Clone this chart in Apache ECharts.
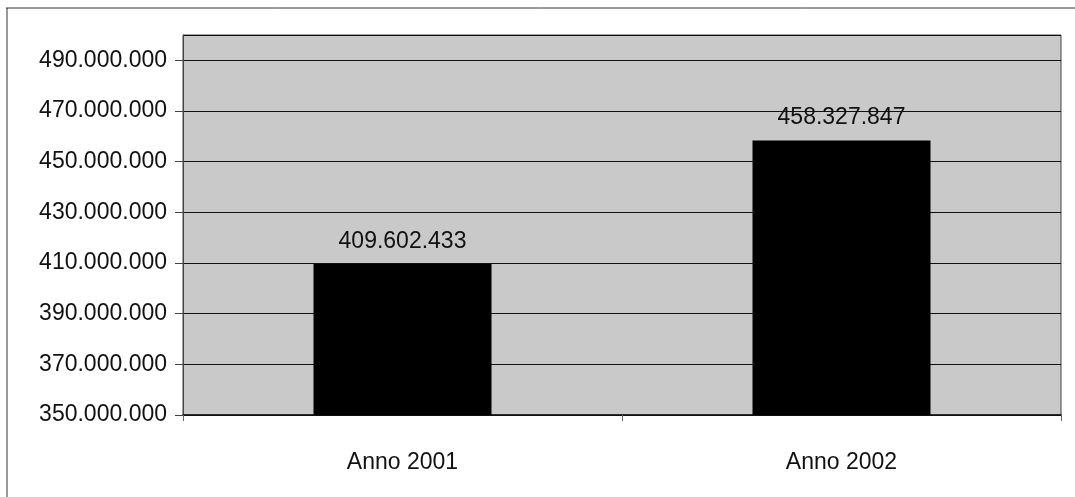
<!DOCTYPE html>
<html><head><meta charset="utf-8">
<script src="https://cdn.jsdelivr.net/npm/echarts@6/dist/echarts.min.js"></script>
<style>html,body{margin:0;padding:0;background:#fff}#c{width:1075px;height:497px}</style>
</head><body><div id="c"></div>
<script>
const categories = ['Anno 2001', 'Anno 2002'];
const values = [409602433, 458327847];
const yMin = 350000000, yMax = 500000000, yStep = 20000000;

function fmt(v){ return String(Math.round(v)).replace(/\B(?=(\d{3})+(?!\d))/g, '.'); }

const chart = echarts.init(document.getElementById('c'));
chart.setOption({
  animation: false,
  graphic: [
    {type:'line', shape:{x1:6,y1:8,x2:1075,y2:8}, style:{stroke:'#333',lineWidth:1}},
    {type:'line', shape:{x1:7,y1:8,x2:7,y2:497}, style:{stroke:'#333',lineWidth:1}}
  ],
  grid: {left:183, top:35, right:14, bottom:82, show:true, backgroundColor:'#c9c9c9', borderColor:'#444', borderWidth:1},
  xAxis: {
    type:'category', data:categories,
    axisLine:{lineStyle:{color:'#111',width:1.5}},
    axisTick:{show:true, length:6, lineStyle:{color:'#666'}},
    axisLabel:{color:'#111', fontFamily:'Liberation Sans, Arial', fontSize:23, margin:36}
  },
  yAxis: {
    type:'value', min:yMin, max:yMax, interval:yStep,
    axisLine:{show:true, lineStyle:{color:'#444'}},
    axisTick:{show:true, length:8, lineStyle:{color:'#444'}},
    splitLine:{lineStyle:{color:'#111', width:1}},
    axisLabel:{color:'#111', fontFamily:'Liberation Sans, Arial', fontSize:23, margin:16, showMaxLabel:false, formatter:fmt}
  },
  series: [{
    type:'bar', data:values, barWidth:178,
    itemStyle:{color:'#000'},
    label:{show:true, position:'top', distance:11, color:'#111', fontFamily:'Liberation Sans, Arial', fontSize:23, formatter:p=>fmt(p.value)}
  }]
});
</script></body></html>
